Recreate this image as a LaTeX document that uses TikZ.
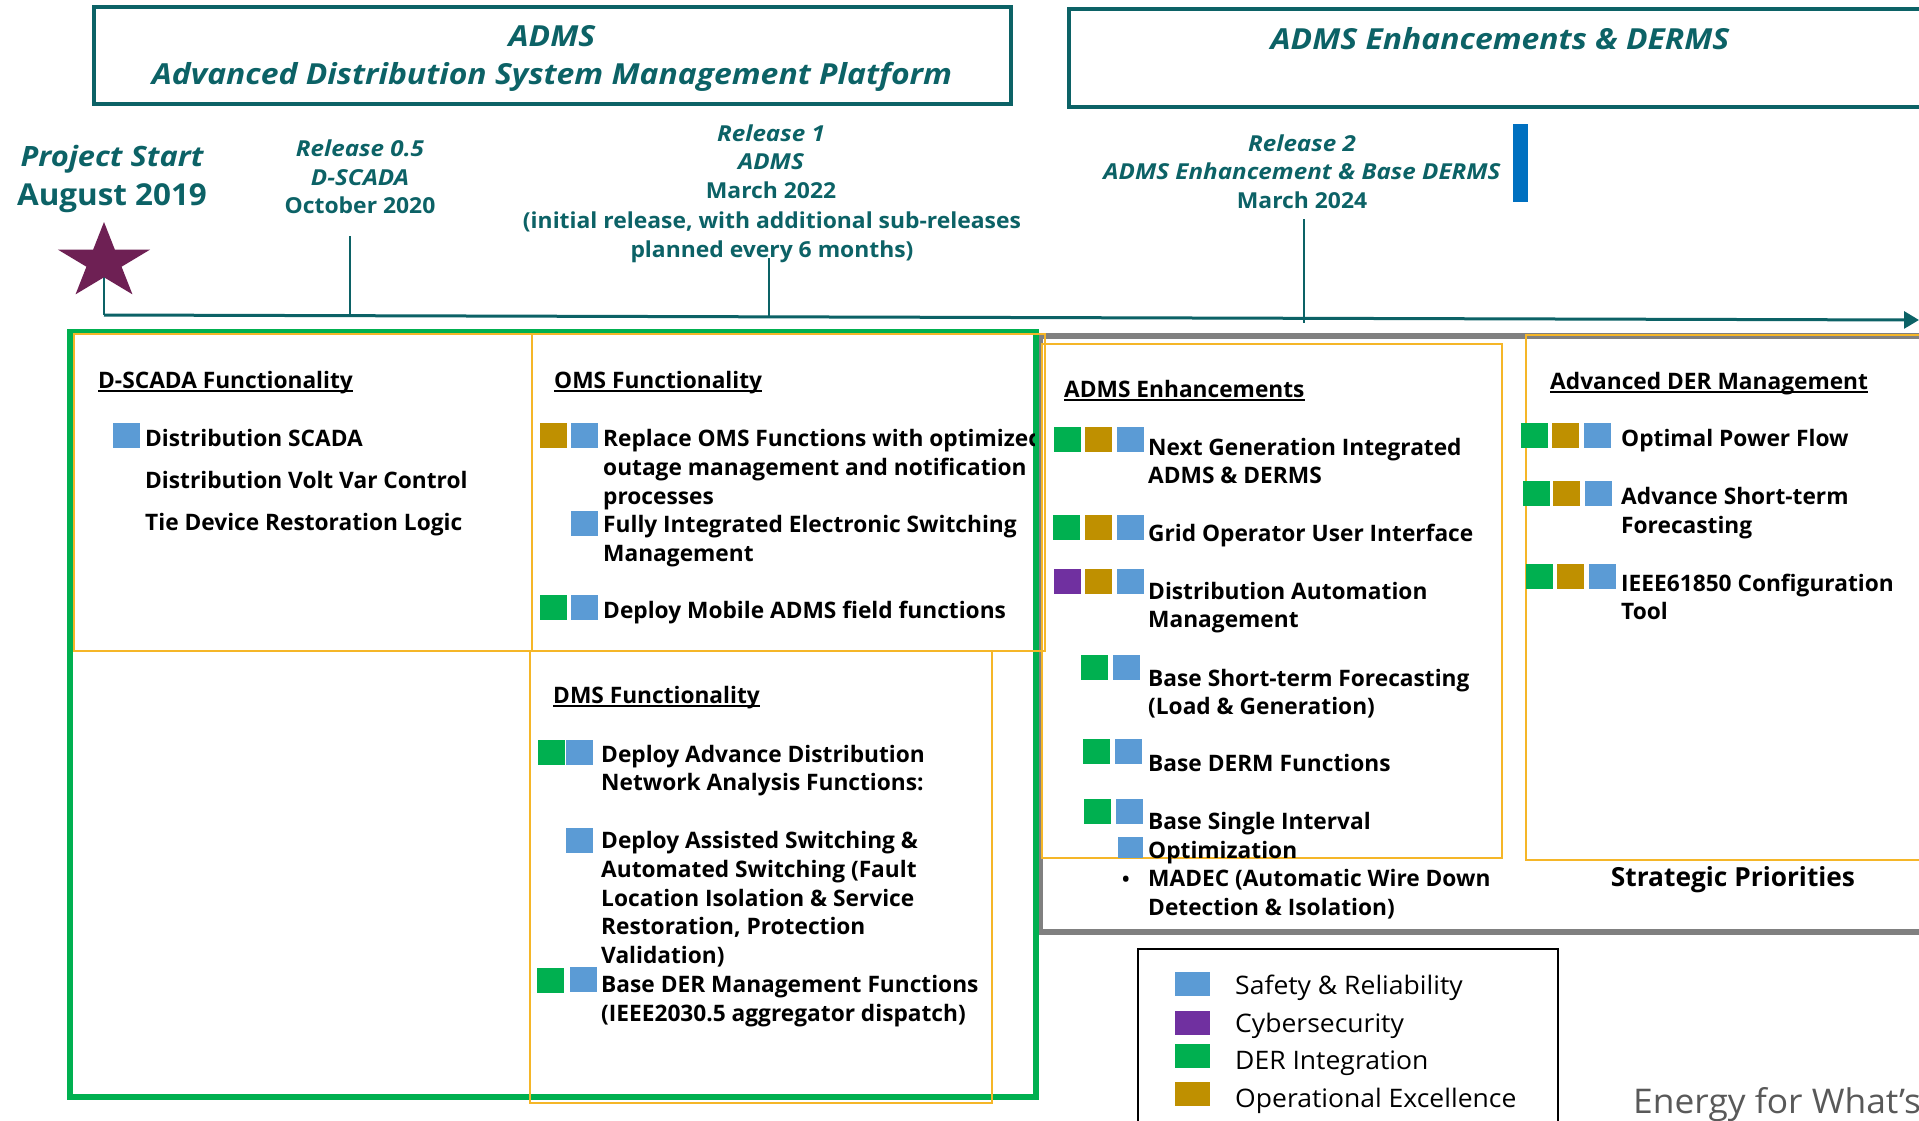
\documentclass[tikz,border=0pt]{standalone}
\usepackage{fontspec}
\setmainfont{Open Sans}
\newfontfamily\stf{Open Sans}[FakeStretch=1.04]
\newfontfamily\stfi{Open Sans}[FakeStretch=1.1]
\usetikzlibrary{arrows.meta}
\definecolor{tealc}{RGB}{12,98,102}
\definecolor{greenc}{RGB}{0,176,80}
\definecolor{goldc}{RGB}{191,144,0}
\definecolor{bluec}{RGB}{91,155,213}
\definecolor{purplec}{RGB}{112,48,160}
\definecolor{starc}{RGB}{110,32,84}
\definecolor{orangec}{RGB}{245,182,40}
\definecolor{grayc}{RGB}{128,128,128}
\definecolor{enc}{RGB}{89,89,89}
\definecolor{barc}{RGB}{0,112,192}
\newcommand\mysq[3]{\fill[#1] (#2,#3) rectangle ++(27,25);}
\begin{document}
\begin{tikzpicture}[x=1pt,y=-1pt,
  tx/.style={anchor=base west,inner sep=0pt,font=\fontsize{22.7}{27}\selectfont\bfseries},
  hd/.style={tx},
  tlab/.style={anchor=base,inner sep=0pt,text=tealc,font=\stf\fontsize{22}{26}\selectfont\bfseries},
  tlabi/.style={tlab,font=\stfi\fontsize{22}{26}\selectfont\bfseries\itshape},
  ttl/.style={anchor=base,inner sep=0pt,text=tealc,font=\stfi\fontsize{29}{34}\selectfont\bfseries\itshape},
  lg/.style={anchor=base west,inner sep=0pt,font=\stf\fontsize{25.5}{30}\selectfont},
  obox/.style={draw=orangec,line width=2pt},
  uline/.style={line width=1.5pt},
  tick/.style={draw=tealc,line width=1.3pt}]
\clip (0,0) rectangle (1919,1121);
\fill[white] (0,0) rectangle (1919,1121);

% header boxes
\draw[tealc,line width=3.5pt] (94,7) rectangle (1011,104);
\node[ttl] (t1) at (552,47) {ADMS};
\node[ttl] (t2) at (552,85) {Advanced Distribution System Management Platform};
\draw[tealc,line width=3.5pt] (1069,9) rectangle (1940,107);
\node[ttl] (t3) at (1500,50) {ADMS Enhancements \& DERMS};

% timeline labels
\node[tlabi,font=\stfi\fontsize{28}{34}\selectfont\bfseries\itshape] (ps1) at (112,167) {Project Start};
\node[tlab,font=\stf\fontsize{30.2}{34}\selectfont\bfseries] (ps2) at (112,205) {August 2019};
\node[tlabi] (r05a) at (360,157) {Release 0.5};
\node[tlabi] (r05b) at (360,185) {D-SCADA};
\node[tlab] (r05c) at (360,213) {October 2020};
\node[tlabi] (r1a) at (771,142) {Release 1};
\node[tlabi] (r1b) at (771,169) {ADMS};
\node[tlab] (r1c) at (771,198) {March 2022};
\node[tlab] (r1d) at (772,228) {(initial release, with additional sub-releases};
\node[tlab] (r1e) at (772,257) {planned every 6 months)};
\node[tlabi] (r2a) at (1302,152) {Release 2};
\node[tlabi] (r2b) at (1302,179) {ADMS Enhancement \& Base DERMS};
\node[tlab] (r2c) at (1302,208) {March 2024};
\fill[barc] (1513,124) rectangle (1528,202);

% timeline
\coordinate (tl0) at (104,315);
\coordinate (tlend) at (1919,320);
\coordinate (k0) at (104,270);
\coordinate (k1t) at (350,236);
\coordinate (k1b) at (350,316);
\coordinate (k2t) at (769,258);
\coordinate (k2b) at (769,317);
\coordinate (k3t) at (1304,219);
\coordinate (k3b) at (1304,323);
\draw[tick] (k0) -- (tl0);
\draw[tick] (k1t) -- (k1b);
\draw[tick] (k2t) -- (k2b);
\draw[tick] (k3t) -- (k3b);
\draw[tealc,line width=3pt,-{Triangle[length=15pt,width=17pt]}] (tl0) -- (tlend);
\begin{scope}[shift={(104,262)},x=48.4pt,y=40pt]
\fill[starc] (90:1) -- (126:0.382) -- (162:1) -- (198:0.382) -- (234:1) -- (270:0.382) -- (306:1) -- (342:0.382) -- (18:1) -- (54:0.382) -- cycle;
\end{scope}

% gray box
\draw[grayc,line width=6pt] (1040,336) rectangle (1940,932);

% green box
\draw[greenc,line width=6pt] (70,332) rectangle (1036,1097);

% orange boxes
\draw[obox] (74,334) rectangle (532,651);
\draw[obox] (532,334) rectangle (1045,651);
\draw[obox] (530,651) rectangle (992,1103);
\draw[obox] (1042,344) rectangle (1502,858);
\draw[obox] (1526,335) rectangle (1940,860);

% D-SCADA
\node[hd] (h1) at (98,388) {D-SCADA Functionality};
\draw[uline] ([yshift=-3pt]h1.base west) -- ([yshift=-3pt]h1.base east);
\mysq{bluec}{113}{423}
\node[tx] (d1) at (145,446) {Distribution SCADA};
\node[tx] (d2) at (145,488) {Distribution Volt Var Control};
\node[tx] (d3) at (145,530) {Tie Device Restoration Logic};

% OMS
\node[hd] (h2) at (554,388) {OMS Functionality};
\draw[uline] ([yshift=-3pt]h2.base west) -- ([yshift=-3pt]h2.base east);
\mysq{goldc}{540}{423}
\mysq{bluec}{571}{423}
\begin{scope}
\clip (590,400) rectangle (1034,460);
\node[tx] (o1) at (603,446) {Replace OMS Functions with optimized};
\end{scope}
\node[tx] (o2) at (603,475) {outage management and notification};
\node[tx] (o3) at (603,504) {processes};
\mysq{bluec}{571}{511}
\node[tx] (o4) at (603,532) {Fully Integrated Electronic Switching};
\node[tx] (o5) at (603,561) {Management};
\mysq{greenc}{540}{595}
\mysq{bluec}{571}{595}
\node[tx] (o6) at (603,618) {Deploy Mobile ADMS field functions};

% DMS
\node[hd] (h3) at (553,703) {DMS Functionality};
\draw[uline] ([yshift=-3pt]h3.base west) -- ([yshift=-3pt]h3.base east);
\mysq{greenc}{538}{740}
\mysq{bluec}{566}{740}
\node[tx] (m1) at (601,762) {Deploy Advance Distribution};
\node[tx] (m2) at (601,790) {Network Analysis Functions:};
\mysq{bluec}{566}{828}
\node[tx] (m3) at (601,848) {Deploy Assisted Switching \&};
\node[tx] (m4) at (601,877) {Automated Switching (Fault};
\node[tx] (m5) at (601,906) {Location Isolation \& Service};
\node[tx] (m6) at (601,934) {Restoration, Protection};
\node[tx] (m7) at (601,963) {Validation)};
\mysq{greenc}{537}{968}
\mysq{bluec}{570}{967}
\node[tx] (m8) at (601,992) {Base DER Management Functions};
\node[tx] (m9) at (601,1021) {(IEEE2030.5 aggregator dispatch)};

% ADMS Enhancements
\node[hd] (h4) at (1064,397) {ADMS Enhancements};
\draw[uline] ([yshift=-3pt]h4.base west) -- ([yshift=-3pt]h4.base east);
\mysq{greenc}{1054}{427}
\mysq{goldc}{1085}{427}
\mysq{bluec}{1117}{427}
\node[tx] (e1) at (1148,455) {Next Generation Integrated};
\node[tx] (e2) at (1148,483) {ADMS \& DERMS};
\mysq{greenc}{1053}{515}
\mysq{goldc}{1085}{515}
\mysq{bluec}{1117}{515}
\node[tx] (e3) at (1148,541) {Grid Operator User Interface};
\mysq{purplec}{1054}{569}
\mysq{goldc}{1085}{569}
\mysq{bluec}{1117}{569}
\node[tx] (e4) at (1148,599) {Distribution Automation};
\node[tx] (e5) at (1148,627) {Management};
\mysq{greenc}{1081}{655}
\mysq{bluec}{1113}{655}
\node[tx] (e6) at (1148,686) {Base Short-term Forecasting};
\node[tx] (e7) at (1148,714) {(Load \& Generation)};
\mysq{greenc}{1083}{739}
\mysq{bluec}{1115}{739}
\node[tx] (e8) at (1148,771) {Base DERM Functions};
\mysq{greenc}{1084}{799}
\mysq{bluec}{1116}{799}
\node[tx] (e9) at (1148,829) {Base Single Interval};
\fill[bluec] (1118,837) rectangle (1143,858);
\node[tx] (e10) at (1148,858) {Optimization};
\node[tx,font=\fontsize{20}{24}\selectfont\bfseries] (eb) at (1122,886) {•};
\node[tx] (e11) at (1148,886) {MADEC (Automatic Wire Down};
\node[tx] (e12) at (1148,915) {Detection \& Isolation)};

% Advanced DER
\node[hd] (h5) at (1550,389) {Advanced DER Management};
\draw[uline] ([yshift=-3pt]h5.base west) -- ([yshift=-3pt]h5.base east);
\mysq{greenc}{1521}{423}
\mysq{goldc}{1552}{423}
\mysq{bluec}{1584}{423}
\node[tx] (a1) at (1621,446) {Optimal Power Flow};
\mysq{greenc}{1523}{481}
\mysq{goldc}{1553}{481}
\mysq{bluec}{1585}{481}
\node[tx] (a2) at (1621,504) {Advance Short-term};
\node[tx] (a3) at (1621,533) {Forecasting};
\mysq{greenc}{1526}{564}
\mysq{goldc}{1557}{564}
\mysq{bluec}{1589}{564}
\node[tx] (a4) at (1621,591) {IEEE61850 Configuration};
\node[tx] (a5) at (1621,619) {Tool};
\node[anchor=base,inner sep=0pt,font=\fontsize{26.3}{32}\selectfont\bfseries] (sp) at (1733,886) {Strategic Priorities};

% legend
\draw[black,line width=1.5pt] (1138,949) rectangle (1558,1140);
\fill[bluec] (1175,972) rectangle ++(35,24);
\fill[purplec] (1175,1011) rectangle ++(35,24);
\fill[greenc] (1175,1044) rectangle ++(35,24);
\fill[goldc] (1175,1082) rectangle ++(35,24);
\node[lg] (l1) at (1235,994) {Safety \& Reliability};
\node[lg] (l2) at (1235,1032) {Cybersecurity};
\node[lg] (l3) at (1235,1069) {DER Integration};
\node[lg] (l4) at (1235,1107) {Operational Excellence};
\node[anchor=base west,inner sep=0pt,text=enc,font=\stf\fontsize{34}{40}\selectfont] (en) at (1633,1113) {Energy for What’s};
\end{tikzpicture}
\end{document}
